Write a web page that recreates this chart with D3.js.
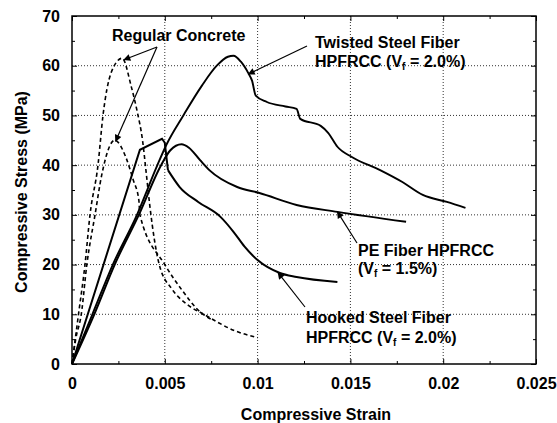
<!DOCTYPE html>
<html>
<head>
<meta charset="utf-8">
<script src="https://cdn.jsdelivr.net/npm/d3@7"></script>
<style>
  body { margin: 0; background: #fff; }
  svg { display: block; font-family: Arial, "Liberation Sans", sans-serif; font-weight: bold; }
  .grid line { stroke: #333; stroke-width: 1; stroke-dasharray: 1,2; }
  .axis path, .axis line { stroke: #000; }
  .axis text { font-size: 16px; font-weight: bold; fill: #000; font-family: Arial, "Liberation Sans", sans-serif; }
</style>
</head>
<body>
<script>
// strain, stress (MPa) pairs
var twisted = [[0,0],[0.0011,10],[0.0022,20],[0.0035,30],[0.0046,40],[0.0051,44.2],[0.006,50],[0.007,56],[0.0078,60],[0.0084,61.8],[0.0087,62],[0.0091,60.8],[0.0095,58.5],[0.0097,57],[0.0099,54],[0.0105,52.7],[0.0115,51.8],[0.0121,51.3],[0.0123,49.3],[0.0134,47.9],[0.0138,46.5],[0.0143,43.7],[0.0151,41.6],[0.0166,39],[0.0178,36.6],[0.0189,34],[0.0202,32.6],[0.0212,31.4]];
var peFiber = [[0,0],[0.0012,10],[0.0023,20],[0.0036,30],[0.0048,40],[0.0053,43],[0.0059,44.2],[0.0063,43.5],[0.0069,41],[0.0074,39],[0.0089,35.6],[0.0101,34.4],[0.0121,32],[0.0143,30.6],[0.018,28.6]];
var hooked = [[0,0],[0.00366,43.1],[0.00485,45.3],[0.005,44.5],[0.00517,39],[0.0058,35.6],[0.0068,32.6],[0.008,29.6],[0.0087,26.6],[0.0093,23.6],[0.01,20.9],[0.0112,18.3],[0.0121,17.5],[0.0143,16.5]];
var concreteA = [[0,0],[0.00035,10],[0.0007,20],[0.00097,30],[0.0014,40],[0.00167,50],[0.0021,58.5],[0.0027,61.5],[0.0032,55.7],[0.0035,51],[0.0038,45],[0.004,38.4],[0.0042,31.6],[0.0047,20],[0.0054,15],[0.0062,12],[0.0072,9.8],[0.0087,6.8],[0.01,5.3]];
var concreteB = [[0,0],[0.0002,5],[0.0005,10],[0.0008,20],[0.00124,30],[0.0016,38],[0.0023,45],[0.0029,41.6],[0.0033,37],[0.0036,33],[0.00366,30],[0.005,20],[0.0059,15],[0.0069,10.5],[0.0075,9]];

var xTicks = [0, 0.005, 0.01, 0.015, 0.02, 0.025];
var xTickLabels = ["0", "0.005", "0.01", "0.015", "0.02", "0.025"];
var xMinor = [0.0025, 0.0075, 0.0125, 0.0175, 0.0225];
var yTicks = [0, 10, 20, 30, 40, 50, 60, 70];
var yMinor = [5, 15, 25, 35, 45, 55, 65];

var width = 557, height = 423;
var pL = 72, pR = 536, pT = 16, pB = 364;

var svg = d3.select("body").append("svg").attr("width", width).attr("height", height);

var x = d3.scaleLinear().domain([0, 0.025]).range([pL, pR]);
var y = d3.scaleLinear().domain([0, 70]).range([pB, pT]);

// dotted grid
var grid = svg.append("g").attr("class", "grid");
grid.selectAll(".gx").data(xTicks.slice(1, -1)).enter().append("line")
    .attr("x1", function(d) { return x(d); }).attr("x2", function(d) { return x(d); })
    .attr("y1", pT).attr("y2", pB);
grid.selectAll(".gy").data(yTicks.slice(1, -1)).enter().append("line")
    .attr("y1", function(d) { return y(d); }).attr("y2", function(d) { return y(d); })
    .attr("x1", pL).attr("x2", pR);

// axes, ticks pointing inward
function addAxis(axis, tx, ty, vals, size, labels) {
    var a = axis.tickValues(vals).tickSizeInner(-size).tickSizeOuter(0).tickPadding(size + 8);
    if (labels) a.tickFormat(function(d, i) { return labels[i]; });
    else a.tickFormat("");
    var g = svg.append("g").attr("class", "axis").attr("transform", "translate(" + tx + "," + ty + ")").call(a);
    g.select(".domain").remove();
    return g;
}
var xa = addAxis(d3.axisBottom(x), 0, pB, xTicks, 5, xTickLabels);
xa.selectAll("text").attr("y", 14);
addAxis(d3.axisBottom(x), 0, pB, xMinor, 3);
addAxis(d3.axisTop(x), 0, pT, xTicks, 5);
addAxis(d3.axisTop(x), 0, pT, xMinor, 3);
var ya = addAxis(d3.axisLeft(y), pL, 0, yTicks, 5, yTicks.map(String));
ya.selectAll("text").attr("x", -12);
addAxis(d3.axisLeft(y), pL, 0, yMinor, 3);
addAxis(d3.axisRight(y), pR, 0, yTicks, 5);
addAxis(d3.axisRight(y), pR, 0, yMinor, 3);

svg.append("rect").attr("x", pL).attr("y", pT).attr("width", pR - pL).attr("height", pB - pT)
    .attr("fill", "none").attr("stroke", "#000").attr("stroke-width", 1.5);

// curves
var lineM = d3.line().x(function(d) { return x(d[0]); }).y(function(d) { return y(d[1]); }).curve(d3.curveMonotoneX);
var lineS = d3.line().x(function(d) { return x(d[0]); }).y(function(d) { return y(d[1]); });

svg.append("path").attr("d", lineM(concreteA)).attr("fill", "none").attr("stroke", "#000").attr("stroke-width", 1.6).attr("stroke-dasharray", "4,3");
svg.append("path").attr("d", lineM(concreteB)).attr("fill", "none").attr("stroke", "#000").attr("stroke-width", 1.6).attr("stroke-dasharray", "4,3");
svg.append("path").attr("d", lineM(twisted)).attr("fill", "none").attr("stroke", "#000").attr("stroke-width", 1.9);
svg.append("path").attr("d", lineM(peFiber)).attr("fill", "none").attr("stroke", "#000").attr("stroke-width", 2);
svg.append("path").attr("d", lineS(hooked.slice(0, 5))).attr("fill", "none").attr("stroke", "#000").attr("stroke-width", 2);
svg.append("path").attr("d", lineM(hooked.slice(4))).attr("fill", "none").attr("stroke", "#000").attr("stroke-width", 2);

// annotations
svg.append("defs").append("marker").attr("id", "arr").attr("viewBox", "0 0 10 10")
    .attr("refX", 9).attr("refY", 5).attr("markerWidth", 9).attr("markerHeight", 7)
    .attr("markerUnits", "userSpaceOnUse").attr("orient", "auto")
    .append("path").attr("d", "M0,0 L10,5 L0,10 Z").attr("fill", "#000");

function arrow(x1, y1, x2, y2) {
    svg.append("line").attr("x1", x1).attr("y1", y1).attr("x2", x2).attr("y2", y2)
        .attr("stroke", "#000").attr("stroke-width", 1.2).attr("marker-end", "url(#arr)");
}
arrow(157, 47, x(0.0028), y(61.2));
arrow(157, 47, x(0.00235), y(44.8));
arrow(307, 46, x(0.0095), y(58.3));
arrow(357, 243, x(0.0143), y(30.6));
arrow(305, 307, x(0.0111), y(18.4));

function label(tx, ty, parts) {
    var t = svg.append("text").attr("x", tx).attr("y", ty).attr("font-size", 16).attr("fill", "#000");
    parts.forEach(function(p) {
        if (p.sub) t.append("tspan").attr("font-size", 10).attr("dy", 3).text(p.t);
        else if (p.after) t.append("tspan").attr("dy", -3).text(p.t);
        else t.append("tspan").text(p.t);
    });
}
label(112, 41, [{t: "Regular Concrete"}]);
label(315, 48, [{t: "Twisted Steel Fiber"}]);
label(315, 67, [{t: "HPFRCC (V"}, {t: "f", sub: true}, {t: " = 2.0%)", after: true}]);
label(358, 256, [{t: "PE Fiber HPFRCC"}]);
label(358, 274, [{t: "(V"}, {t: "f", sub: true}, {t: " = 1.5%)", after: true}]);
label(306, 323, [{t: "Hooked Steel Fiber"}]);
label(306, 343, [{t: "HPFRCC (V"}, {t: "f", sub: true}, {t: " = 2.0%)", after: true}]);

// axis titles
svg.append("text").attr("x", 316).attr("y", 420).attr("text-anchor", "middle").attr("font-size", 16).text("Compressive Strain");
svg.append("text").attr("transform", "translate(27,192) rotate(-90)").attr("text-anchor", "middle").attr("font-size", 16).text("Compressive Stress (MPa)");
</script>
</body>
</html>
